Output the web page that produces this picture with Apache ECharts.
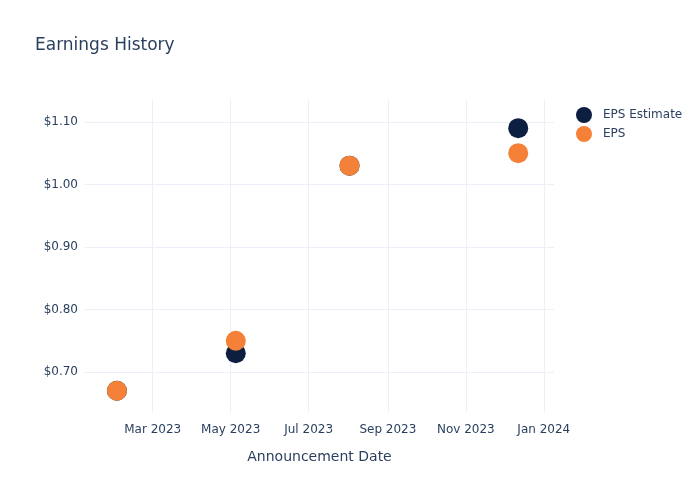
<!DOCTYPE html>
<html>
<head>
<meta charset="utf-8">
<script src="https://cdn.jsdelivr.net/npm/echarts@6/dist/echarts.min.js"></script>
<style>html,body{margin:0;padding:0;background:#fff}#c{width:700px;height:500px}</style>
</head>
<body>
<div id="c"></div>
<script>
const dates = ['2023-02-01', '2023-05-05', '2023-08-02', '2023-12-12'];
const epsEstimate = [0.67, 0.73, 1.03, 1.09];
const eps = [0.67, 0.75, 1.03, 1.05];
const xTicks = ['2023-03-01', '2023-05-01', '2023-07-01', '2023-09-01', '2023-11-01', '2024-01-01'];
const yTicks = [0.70, 0.80, 0.90, 1.00, 1.10];
const monthNames = ['Jan','Feb','Mar','Apr','May','Jun','Jul','Aug','Sep','Oct','Nov','Dec'];

const ts = s => { const [y,m,d] = s.split('-').map(Number); return Date.UTC(y, m-1, d); };
const tickTs = xTicks.map(ts);
const chart = echarts.init(document.getElementById('c'));
const textColor = '#2a3f5f';
chart.setOption({
  animation: false,
  backgroundColor: '#fff',
  title: {
    text: 'Earnings History', left: 30, top: 32,
    textStyle: { fontFamily: 'DejaVu Sans', fontSize: 17, fontWeight: 'normal', color: textColor }
  },
  legend: {
    orient: 'vertical', left: 571, top: 102, itemGap: 3, itemWidth: 16, itemHeight: 16,
    icon: 'circle',
    textStyle: { fontFamily: 'DejaVu Sans', fontSize: 12, color: textColor, padding: [0, 0, 0, 6] },
    data: ['EPS Estimate', 'EPS']
  },
  grid: { left: 85, right: 146, top: 100, bottom: 88, containLabel: false },
  xAxis: {
    type: 'value',
    min: ts('2023-01-07'), max: ts('2024-01-09'),
    name: 'Announcement Date', nameLocation: 'middle', nameGap: 38,
    nameTextStyle: { fontFamily: 'DejaVu Sans', fontSize: 14, color: textColor },
    axisLine: { show: false },
    axisTick: { show: false, customValues: tickTs },
    axisLabel: {
      customValues: tickTs, color: textColor, fontFamily: 'DejaVu Sans', fontSize: 12, margin: 12,
      formatter: v => { const d = new Date(v); return monthNames[d.getUTCMonth()] + ' ' + d.getUTCFullYear(); }
    },
    splitLine: { show: true, lineStyle: { color: '#ebf0f8', width: 1 } }
  },
  yAxis: {
    type: 'value', min: 0.636, max: 1.135,
    axisLine: { show: false }, axisTick: { show: false, customValues: yTicks },
    axisLabel: {
      customValues: yTicks, color: textColor, fontFamily: 'DejaVu Sans', fontSize: 12, margin: 7,
      formatter: v => '$' + v.toFixed(2)
    },
    splitLine: { show: true, lineStyle: { color: '#ebf0f8', width: 1 } }
  },
  series: [
    { name: 'EPS Estimate', type: 'scatter', symbolSize: 20, itemStyle: { color: '#0c1f40', opacity: 1 },
      data: dates.map((d, i) => [ts(d), epsEstimate[i]]) },
    { name: 'EPS', type: 'scatter', symbolSize: 20, itemStyle: { color: '#f58138', opacity: 1 },
      data: dates.map((d, i) => [ts(d), eps[i]]) }
  ]
});
</script>
</body>
</html>
